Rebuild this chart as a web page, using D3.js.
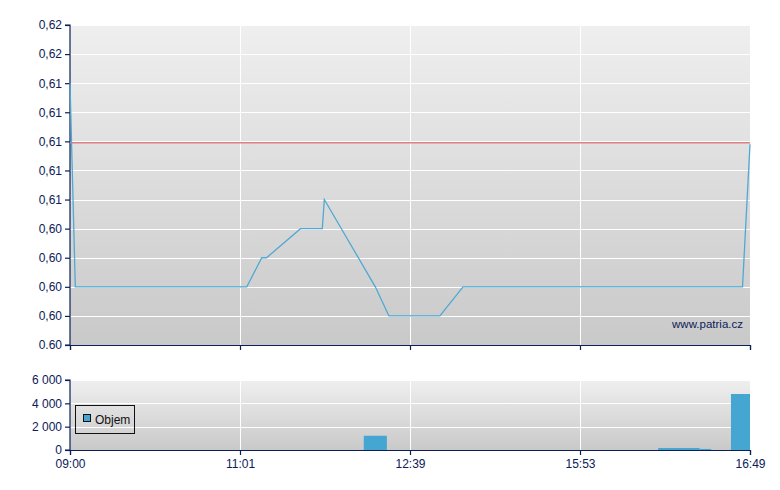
<!DOCTYPE html>
<html><head><meta charset="utf-8">
<script src="https://cdn.jsdelivr.net/npm/d3@7"></script>
<style>body{margin:0;background:#fff}svg{display:block}text{font-family:"Liberation Sans",Arial,sans-serif}</style>
</head><body>
<script>
// ---- data ----
const pricePos = [0, 0.78, 26.0, 28.2, 28.9, 33.9, 37.1, 37.4, 44.9, 46.9, 54.4, 57.8, 98.9, 100];
const priceVal = [0.614, 0.600, 0.600, 0.602, 0.602, 0.604, 0.604, 0.606, 0.600, 0.598, 0.598, 0.600, 0.600, 0.6098];
const prevClose = 0.6099;
const priceTicks = [0.596, 0.598, 0.600, 0.602, 0.604, 0.606, 0.608, 0.610, 0.612, 0.614, 0.616, 0.618];
const priceTickLabels = ["0.60", "0,60", "0,60", "0,60", "0,60", "0,61", "0,61", "0,61", "0,61", "0,61", "0,62", "0,62"];
const timePos = [0, 25, 50, 75, 100];
const timeLabels = ["09:00", "11:01", "12:39", "15:53", "16:49"];
const volStart = [43.2, 86.5, 92.6, 97.2];
const volEnd = [46.6, 92.6, 94.3, 100];
const volVal = [1220, 170, 90, 4800];
const volTicks = [0, 2000, 4000, 6000];
const volTickLabels = ["0", "2 000", "4 000", "6 000"];

const W = 780, H = 490;
const navy = "#0b2058";
const svg = d3.select("body").append("svg").attr("width", W).attr("height", H);
const defs = svg.append("defs");
const g1 = defs.append("linearGradient").attr("id", "bg1").attr("x1", 0).attr("x2", 0).attr("y1", 0).attr("y2", 1);
g1.append("stop").attr("offset", "0%").attr("stop-color", "#efefef");
g1.append("stop").attr("offset", "100%").attr("stop-color", "#c9c9c9");

const x = d3.scaleLinear().domain([0, 100]).range([70, 750]);
const y = d3.scaleLinear().domain([0.596, 0.618]).range([345, 25]);
const yv = d3.scaleLinear().domain([0, 6000]).range([450, 380]);

function panel(yScale, ticks, labels, showTime) {
  const [y0, y1] = yScale.range();
  svg.append("rect").attr("x", x(0)).attr("y", y1).attr("width", x(100) - x(0)).attr("height", y0 - y1).attr("fill", "url(#bg1)");
  svg.append("g").selectAll("line").data(ticks.slice(1)).join("line")
    .attr("x1", x(0)).attr("x2", x(100)).attr("y1", d => Math.round(yScale(d)) + 0.5).attr("y2", d => Math.round(yScale(d)) + 0.5)
    .attr("stroke", "#fff").attr("stroke-width", 1);
  svg.append("g").selectAll("line").data(timePos.slice(1)).join("line")
    .attr("x1", d => x(d) + 0.5).attr("x2", d => x(d) + 0.5).attr("y1", y1).attr("y2", y0)
    .attr("stroke", "#fff").attr("stroke-width", 1);
  const ya = d3.axisLeft(yScale).tickValues(ticks).tickFormat((d, i) => labels[i]).tickSize(5).tickPadding(3);
  const ga = svg.append("g").attr("transform", `translate(${x(0)},0)`).call(ya);
  const xa = d3.axisBottom(x).tickValues(timePos).tickFormat((d, i) => showTime ? timeLabels[i] : "").tickSize(5).tickPadding(4);
  const gx = svg.append("g").attr("transform", `translate(0,${y0})`).call(xa);
  [ga, gx].forEach(g => {
    g.select(".domain").attr("stroke", navy).attr("stroke-width", 1.2);
    g.selectAll(".tick line").attr("stroke", navy).attr("stroke-width", 1.2);
    g.selectAll("text").attr("fill", navy).style("font-size", "12px").style("font-family", '"Liberation Sans",Arial,sans-serif');
  });
  ga.select(".domain").attr("d", `M-5,${y1}H0V${y0}H-5`);
}

panel(y, priceTicks, priceTickLabels, false);
panel(yv, volTicks, volTickLabels, true);

// previous close
svg.append("line").attr("x1", x(0)).attr("x2", x(100)).attr("y1", y(prevClose)).attr("y2", y(prevClose))
  .attr("stroke", "#e07f7f").attr("stroke-width", 1.5);

// price line
const pts = pricePos.map((p, i) => [p, priceVal[i]]);
svg.append("path").datum(pts)
  .attr("d", d3.line().x(d => x(d[0])).y(d => y(d[1])))
  .attr("fill", "none").attr("stroke", "#4fa9d2").attr("stroke-width", 1.3);

svg.append("text").attr("x", 743).attr("y", 328).attr("text-anchor", "end")
  .attr("fill", navy).style("font-size", "11.5px").text("www.patria.cz");

// volume bars
svg.append("g").selectAll("rect").data(volVal).join("rect")
  .attr("x", (d, i) => x(volStart[i])).attr("width", (d, i) => x(volEnd[i]) - x(volStart[i]))
  .attr("y", d => yv(d)).attr("height", d => yv(0) - yv(d)).attr("fill", "#45a6d1");

// legend
const lg = svg.append("g");
lg.append("rect").attr("x", 75.5).attr("y", 405.5).attr("width", 59).attr("height", 28)
  .attr("fill", "none").attr("stroke", "#111").attr("stroke-width", 1);
lg.append("rect").attr("x", 83.5).attr("y", 414.5).attr("width", 7).attr("height", 7)
  .attr("fill", "#45a6d1").attr("stroke", "#111").attr("stroke-width", 1);
lg.append("text").attr("x", 95).attr("y", 424).attr("fill", "#111").style("font-size", "12px").text("Objem");
</script>
</body></html>
